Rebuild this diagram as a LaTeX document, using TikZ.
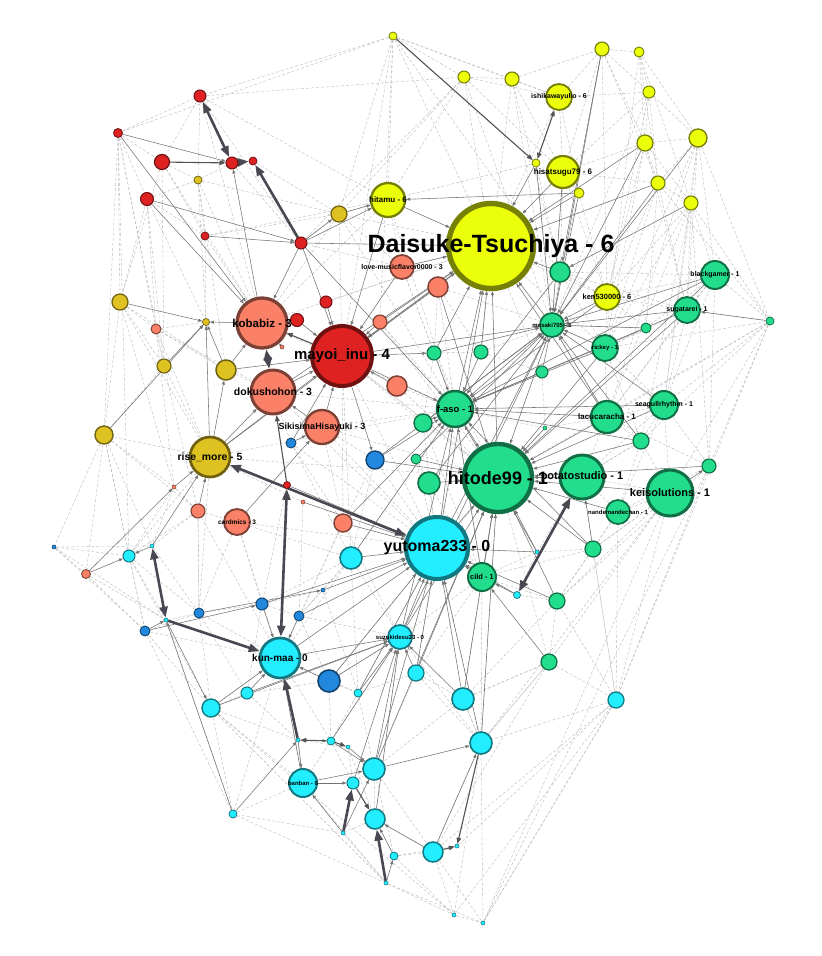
\documentclass[tikz,border=0pt]{standalone}
\usepackage{fontspec}
\setmainfont{Liberation Sans}
\usepackage{tikz}
\usetikzlibrary{arrows.meta}
\definecolor{NodeY}{RGB}{236,255,10}
\definecolor{NodeO}{RGB}{222,194,34}
\definecolor{NodeR}{RGB}{222,34,34}
\definecolor{NodeS}{RGB}{250,128,104}
\definecolor{NodeG}{RGB}{34,222,140}
\definecolor{NodeC}{RGB}{34,238,255}
\definecolor{NodeB}{RGB}{34,136,221}
\definecolor{EdgeDark}{RGB}{74,70,82}
\pgfdeclarelayer{edges}
\pgfsetlayers{edges,main}

\begin{document}
\begin{tikzpicture}[
  x=1pt, y=-1pt,
  vtx/.style={circle, inner sep=0pt, minimum size=#1pt, line width=0.3pt+#1*0.06pt},
  ynode/.style={vtx=#1, fill=NodeY, draw=NodeY!50!black},
  onode/.style={vtx=#1, fill=NodeO, draw=NodeO!50!black},
  rnode/.style={vtx=#1, fill=NodeR, draw=NodeR!50!black},
  snode/.style={vtx=#1, fill=NodeS, draw=NodeS!50!black},
  gnode/.style={vtx=#1, fill=NodeG, draw=NodeG!50!black},
  cnode/.style={vtx=#1, fill=NodeC, draw=NodeC!50!black},
  bnode/.style={vtx=#1, fill=NodeB, draw=NodeB!50!black},
  faint/.style={draw=black!28, line width=0.4pt, dash pattern=on 3pt off 2pt},
  arr/.style={-{Triangle[length=4pt,width=3pt]}, draw=black!55, line width=0.55pt},
  strong/.style={-{Triangle[length=6pt,width=4.5pt]}, draw=black!68, line width=1.1pt},
  strongboth/.style={strong, {Triangle[length=6pt,width=4.5pt]}-{Triangle[length=6pt,width=4.5pt]}},
  heavy/.style={-{Triangle[length=11pt,width=8pt]}, draw=EdgeDark, line width=2.6pt},
  heavyboth/.style={heavy, {Triangle[length=11pt,width=8pt]}-{Triangle[length=11pt,width=8pt]}},
  lab/.style={font=\bfseries\fontsize{#1}{#1}\selectfont, inner sep=0pt, text=black}
]
\useasboundingbox (0,0) rectangle (822,956);

% group 6
\node[ynode=8] (y1) at (393,36) {};
\node[ynode=14] (y2) at (602,49) {};
\node[ynode=10] (y6) at (639,52) {};
\node[ynode=12] (y3) at (464,77) {};
\node[ynode=14] (y4) at (512,79) {};
\node[ynode=26] (ishikawayulio) at (559,97) {};
\node[ynode=12] (y5) at (649,92) {};
\node[ynode=16] (y7) at (645,143) {};
\node[ynode=18] (y8) at (698,138) {};
\node[ynode=14] (y9) at (658,183) {};
\node[ynode=14] (y10) at (691,203) {};
\node[ynode=32] (hisatsugu) at (563,172) {};
\node[ynode=8] (y11) at (536,163) {};
\node[ynode=10] (y12) at (579,193) {};
\node[ynode=34] (hitamu) at (388,200) {};
\node[ynode=85] (daisuke) at (491,246) {};
\node[ynode=26] (ken) at (607,297) {};

% group 5
\node[onode=8] (o1) at (198,180) {};
\node[onode=16] (o2) at (339,214) {};
\node[onode=16] (o3) at (120,302) {};
\node[onode=7] (o4) at (206,322) {};
\node[onode=14] (o5) at (164,366) {};
\node[onode=20] (o6) at (226,370) {};
\node[onode=18] (o7) at (104,435) {};
\node[onode=40] (risemore) at (210,457) {};

% group 4
\node[rnode=12] (r1) at (200,96) {};
\node[rnode=9] (r2) at (118,133) {};
\node[rnode=15] (r3) at (162,162) {};
\node[rnode=12] (r4) at (232,163) {};
\node[rnode=8] (r5) at (253,161) {};
\node[rnode=13] (r6) at (147,199) {};
\node[rnode=8] (r7) at (205,236) {};
\node[rnode=12] (r8) at (301,243) {};
\node[rnode=12] (r9) at (326,302) {};
\node[rnode=13] (r10) at (297,320) {};
\node[rnode=60] (mayoi) at (342,356) {};
\node[rnode=7] (r11) at (287,485) {};

% group 3
\node[snode=24] (lovemusic) at (402,267) {};
\node[snode=20] (s1) at (438,287) {};
\node[snode=10] (s2) at (156,329) {};
\node[snode=50] (kobabiz) at (262,323) {};
\node[snode=14] (s3) at (380,322) {};
\node[snode=4] (s4) at (282,347) {};
\node[snode=44] (dokushohon) at (273,392) {};
\node[snode=20] (s5) at (397,386) {};
\node[snode=34] (sikisima) at (322,427) {};
\node[snode=4] (s6) at (174,487) {};
\node[snode=4] (s7) at (303,502) {};
\node[snode=14] (s8) at (198,511) {};
\node[snode=26] (cardmics) at (237,522) {};
\node[snode=18] (s9) at (343,523) {};
\node[snode=9] (s10) at (86,574) {};

% group 1
\node[gnode=20] (g1) at (560,272) {};
\node[gnode=28] (blackgamer) at (715,275) {};
\node[gnode=26] (sugatarei) at (687,310) {};
\node[gnode=10] (g2) at (646,328) {};
\node[gnode=8] (g3) at (770,321) {};
\node[gnode=24] (mosaki) at (552,325) {};
\node[gnode=26] (rickey) at (605,348) {};
\node[gnode=14] (g4) at (434,353) {};
\node[gnode=14] (g5) at (481,352) {};
\node[gnode=12] (g6) at (542,372) {};
\node[gnode=36] (faso) at (455,409) {};
\node[gnode=28] (seagull) at (664,405) {};
\node[gnode=32] (lacucaracha) at (607,417) {};
\node[gnode=18] (g7) at (423,423) {};
\node[gnode=4] (g8) at (545,428) {};
\node[gnode=16] (g9) at (641,441) {};
\node[gnode=10] (g10) at (416,459) {};
\node[gnode=22] (g11) at (429,483) {};
\node[gnode=68] (hitode) at (498,478) {};
\node[gnode=44] (potatostudio) at (582,477) {};
\node[gnode=14] (g12) at (709,466) {};
\node[gnode=46] (keisolutions) at (670,493) {};
\node[gnode=24] (nandemandechan) at (618,512) {};
\node[gnode=16] (g13) at (593,549) {};
\node[gnode=28] (cild) at (482,577) {};
\node[gnode=16] (g14) at (557,601) {};
\node[gnode=16] (g15) at (549,662) {};

% group 0
\node[cnode=62] (yutoma) at (437,548) {};
\node[cnode=4] (c1) at (537,552) {};
\node[cnode=22] (c2) at (351,558) {};
\node[cnode=12] (c3) at (129,556) {};
\node[cnode=4] (c4) at (152,546) {};
\node[cnode=7] (c5) at (517,595) {};
\node[cnode=4] (c6) at (166,620) {};
\node[cnode=24] (suzukidesu) at (400,637) {};
\node[cnode=40] (kunmaa) at (280,658) {};
\node[cnode=16] (c7) at (416,673) {};
\node[cnode=22] (c8) at (463,699) {};
\node[cnode=16] (c9) at (616,700) {};
\node[cnode=12] (c10) at (247,693) {};
\node[cnode=18] (c11) at (211,708) {};
\node[cnode=8] (c12) at (358,693) {};
\node[cnode=4] (c13) at (298,740) {};
\node[cnode=8] (c14) at (331,741) {};
\node[cnode=4] (c15) at (348,747) {};
\node[cnode=22] (c16) at (481,743) {};
\node[cnode=22] (c17) at (374,769) {};
\node[cnode=28] (banban) at (303,783) {};
\node[cnode=12] (c18) at (353,783) {};
\node[cnode=20] (c19) at (375,819) {};
\node[cnode=4] (c20) at (343,833) {};
\node[cnode=8] (c21) at (394,856) {};
\node[cnode=20] (c22) at (433,852) {};
\node[cnode=4] (c23) at (457,846) {};
\node[cnode=4] (c24) at (386,883) {};
\node[cnode=8] (c25) at (233,814) {};
\node[cnode=4] (c26) at (454,915) {};
\node[cnode=4] (c27) at (483,923) {};

% group 2
\node[bnode=4] (b1) at (54,547) {};
\node[bnode=10] (b2) at (291,443) {};
\node[bnode=18] (b3) at (375,460) {};
\node[bnode=4] (b4) at (323,590) {};
\node[bnode=12] (b5) at (262,604) {};
\node[bnode=10] (b6) at (199,613) {};
\node[bnode=10] (b7) at (145,631) {};
\node[bnode=10] (b8) at (299,616) {};
\node[bnode=22] (b9) at (329,681) {};

\begin{pgfonlayer}{edges}
% light mesh
\foreach \a/\b in {y1/r2, y1/r1, y1/y3, y1/y4, y1/hitamu, y1/o2, y1/daisuke, y1/ishikawayulio,
  y3/ishikawayulio, y3/y4, y3/hitamu, y3/daisuke, y3/hisatsugu, y4/hisatsugu, y4/y2, y4/ishikawayulio,
  y4/mosaki, y2/y6, y2/y5, y2/ishikawayulio, y2/y7, y2/hisatsugu, y6/y5, y6/y8, y6/y7, y5/y7, y5/y8,
  y5/hisatsugu, y5/y9, y7/y8, y7/y9, y7/y10, y7/hisatsugu, y8/y9, y8/y10, y8/blackgamer, y8/sugatarei,
  y8/g3, y9/y10, y9/ken, y9/hisatsugu, y10/blackgamer, y10/ken, y10/sugatarei, y10/g3, hisatsugu/ken,
  hisatsugu/g1, ishikawayulio/daisuke, ishikawayulio/hisatsugu, y12/ken, y12/g1, y6/rickey, y8/seagull,
  r1/r2, r1/r3, r1/y3, r1/o1, r2/r3, r2/r6, r2/o3, r2/o7, r2/s2, r3/o1, r3/kobabiz, r3/r7, r6/o1, r6/o3,
  r6/r7, r6/o5, r7/o2, r7/o1, r4/o1, r4/r8, r5/o2, o1/o2, o2/daisuke, o2/r8, o2/kobabiz, o2/lovemusic,
  r8/lovemusic, o3/s2, o3/o5, o3/o6, o3/o7, o5/o7, o5/s2, o5/risemore, o7/risemore, o7/c3, o7/s10, o7/b1,
  o7/s6, s2/o4, s2/o6, b1/s10, b1/c3, b1/b7, b1/c4, s10/b7, s10/c6, r2/c3,
  kobabiz/faso, mayoi/hitode, mayoi/yutoma, dokushohon/faso, dokushohon/yutoma, sikisima/faso,
  sikisima/yutoma, sikisima/hitode, risemore/faso, risemore/hitode, cardmics/yutoma, cardmics/kunmaa,
  s8/kunmaa, s8/c3, s9/kunmaa, b2/yutoma, b3/yutoma, g7/yutoma, g10/yutoma, g4/hitode, lovemusic/faso,
  s1/faso, s1/daisuke, s3/faso, s5/faso, s5/hitode, g5/mosaki, g6/faso, g1/mosaki, g1/ken, ken/rickey,
  ken/sugatarei, rickey/sugatarei, rickey/lacucaracha, rickey/g2, g2/sugatarei, g2/blackgamer,
  blackgamer/sugatarei, blackgamer/g3, sugatarei/g3, g3/seagull, g3/keisolutions, g3/g12, g3/lacucaracha,
  seagull/lacucaracha, seagull/g9, seagull/keisolutions, seagull/g12, g9/lacucaracha, g9/keisolutions,
  g9/potatostudio, g12/nandemandechan, keisolutions/nandemandechan, keisolutions/potatostudio,
  keisolutions/c9, keisolutions/g15, keisolutions/g14, keisolutions/c27, g12/c9, nandemandechan/g13,
  nandemandechan/potatostudio, potatostudio/g13, potatostudio/lacucaracha, lacucaracha/g8, g13/g14,
  g13/cild, g14/g15, g14/c5, g15/c9, g15/c8, g15/c16, c9/c16, c9/c26, c9/c22, c5/c1, c1/cild, c1/g13,
  cild/g14, cild/c8, cild/suzukidesu, cild/c16, yutoma/c7, c2/suzukidesu, c2/kunmaa, c2/b4, b4/b8, b4/b5,
  b5/b6, b6/b7, b6/c3, b7/c11, b7/kunmaa, b6/kunmaa, c3/c11, c3/c6, c6/c25, c11/c25, c11/c10, c11/c13,
  c11/banban, c11/c24, c25/c24, c25/c20, c25/banban, c10/b9, c10/c13, b9/c12, b9/c14, c12/c14,
  c13/banban, c13/c15, c15/c18, c18/c17, c17/c19, c19/c21, c19/c22, c19/c20, c20/c24, c21/c23, c21/c24,
  c22/c23, c22/c26, c22/c27, c24/c26, c24/c27, c26/c27, c16/c22, c16/c8, c8/c7, c8/c17, c7/c12, c7/c17,
  suzukidesu/c12, suzukidesu/b9, c23/c16, c23/c9, c27/c9, g3/hitode, g3/rickey, blackgamer/lacucaracha,
  seagull/potatostudio, y10/seagull, y9/rickey, y7/ken, daisuke/rickey, hitamu/lovemusic, s1/g4,
  s2/dokushohon, o6/dokushohon, s8/cardmics, s6/s8, b6/s8, r11/b5, s7/b8, b4/c12, c9/g13, g15/c22,
  b1/c6, c6/b6, c11/c26, banban/c24, kobabiz/daisuke, r9/daisuke, r10/hitode, s3/hitode, g7/cild,
  y1/g1, y1/mayoi, y1/s3, y3/mosaki, y3/o2, y3/r8, y4/g1, y4/daisuke, y2/ken, y2/y9, y6/y9, y6/y10,
  y5/ken, y5/mosaki, y7/rickey, y7/sugatarei, y8/rickey, y8/lacucaracha, y9/sugatarei, y9/g2,
  y10/rickey, y10/lacucaracha, y10/g9, y10/g12, hitamu/o2, hitamu/r7, hitamu/kobabiz, hitamu/faso,
  r1/kobabiz, r1/r8, r1/hitamu, r2/o5, r3/o3, r3/o5, r6/o4, r6/s2, r7/kobabiz, r7/o4, o1/o4, o1/o6,
  o1/kobabiz, o2/mayoi, o2/faso, o3/risemore, o3/s6, o5/s8, o7/s8, o7/b7, o7/c4, s2/risemore, s2/s6,
  s6/c3, s6/c4, risemore/c3, risemore/b6, risemore/s7, cardmics/b6, cardmics/b5, cardmics/c2, s8/b6,
  s9/b8, s9/suzukidesu, c2/b5, c2/b8, b3/c2, b3/s9, b2/s9, b2/c2, sikisima/b3, sikisima/s9,
  dokushohon/b2, mayoi/s9, mayoi/c2, mayoi/g7, lovemusic/g4, lovemusic/daisuke, s1/g5, s1/mosaki,
  g4/g5, g4/g7, g5/g6, g5/daisuke, g6/rickey, g6/g8, g8/faso, g8/yutoma, g10/g11, g11/yutoma, g11/cild,
  g7/hitode, faso/cild, faso/c2, hitode/c8, hitode/g15, hitode/c16, cild/c7, cild/c5, yutoma/c16,
  yutoma/c12, yutoma/b9, suzukidesu/c16, suzukidesu/c19, suzukidesu/banban, kunmaa/c12, kunmaa/c14,
  kunmaa/banban, kunmaa/c11, kunmaa/c25, b5/b8, b5/c10, b6/c10, b6/c11, b7/c25, c3/b7, c4/b6, c4/s8,
  c2/c12, b8/b9, b8/suzukidesu, c12/c17, c14/c18, c15/c19, c17/c22, c17/c21, c18/c20, c19/c24,
  c21/c26, c21/c22, c8/c16, c8/g15, c7/c16, c16/g15, c9/g14, c9/c27, c26/c16, c27/c16, g14/c8, g13/c9,
  g13/keisolutions, nandemandechan/g9, nandemandechan/c9, nandemandechan/g14, potatostudio/g9,
  potatostudio/c1, lacucaracha/g12, rickey/g9, rickey/seagull, mosaki/g2, mosaki/rickey,
  mosaki/lacucaracha, ken/g2, ken/blackgamer, g1/rickey, g1/sugatarei, g1/blackgamer, daisuke/g6,
  daisuke/g5, daisuke/ken, hisatsugu/mosaki, hisatsugu/y12, ishikawayulio/y12, ishikawayulio/y5,
  y11/hitamu, y11/mosaki, y11/g1, g3/g9, g3/y9, blackgamer/seagull, sugatarei/seagull,
  sugatarei/lacucaracha, blackgamer/g12, seagull/nandemandechan, keisolutions/g13, keisolutions/c16,
  g12/g14, g12/c27, g3/c9}
  \draw[faint] (\a) -- (\b);
% ordinary links
\foreach \a/\b in {y11/daisuke, y12/daisuke, y12/hitamu, hisatsugu/daisuke, y7/daisuke, y7/mosaki,
  y2/mosaki, y2/g1, y9/daisuke, y10/g1, y8/mosaki, hitamu/daisuke, o2/hitamu, hitamu/mayoi, r8/hitamu,
  r2/r4, r6/r8, r7/r8, r6/kobabiz, r2/kobabiz, r8/o2, r8/kobabiz, r8/mayoi, r8/daisuke, r8/faso,
  r9/mayoi, r10/mayoi, r10/kobabiz, s3/mayoi, s5/mayoi, lovemusic/mayoi, daisuke/mayoi, s1/mayoi,
  mayoi/g4, mayoi/faso, mayoi/b3, sikisima/mayoi, sikisima/dokushohon, b2/sikisima, dokushohon/mayoi,
  o6/kobabiz, kobabiz/o4, o3/o4, o5/o4, o7/o4, risemore/o4, o6/o4, risemore/o6, risemore/dokushohon,
  risemore/mayoi, s8/risemore, s6/risemore, c4/risemore, cardmics/sikisima, s9/yutoma, s7/yutoma,
  c2/yutoma, r11/yutoma, kobabiz/r4, s4/kobabiz,
  g1/daisuke, mosaki/daisuke, mosaki/faso, faso/daisuke, hitode/daisuke, mosaki/hitode, rickey/faso,
  rickey/hitode, lacucaracha/mosaki, lacucaracha/hitode, lacucaracha/faso, seagull/faso, seagull/hitode,
  sugatarei/faso, sugatarei/mosaki, blackgamer/mosaki, blackgamer/faso, g2/mosaki, g9/hitode, g9/faso,
  keisolutions/g12, keisolutions/hitode, nandemandechan/hitode, potatostudio/hitode, cild/hitode,
  cild/yutoma, yutoma/hitode, yutoma/faso, g7/faso, g10/hitode, g11/hitode, g4/faso, g5/faso,
  g6/mosaki, ken/mosaki, g8/hitode, b3/faso, b3/hitode, g13/hitode, g14/hitode, g15/cild, c5/cild,
  c1/hitode, c1/faso, g13/potatostudio, g3/sugatarei,
  suzukidesu/yutoma, suzukidesu/hitode, suzukidesu/faso, c7/suzukidesu, c8/suzukidesu, c8/yutoma,
  c16/yutoma, c16/hitode, c17/c16, c17/suzukidesu, c17/yutoma, c14/suzukidesu, c18/suzukidesu,
  banban/c18, c20/banban, c20/c17, c21/c19, c22/c19, c24/c21, c22/c16, c12/suzukidesu,
  kunmaa/suzukidesu, kunmaa/yutoma, c11/kunmaa, c10/kunmaa, b9/kunmaa, b8/kunmaa, b5/kunmaa, b4/yutoma,
  b6/b4, b7/b5, c6/c11, c25/c13, c25/c6, c4/c3, s10/c3, s10/s6, b7/c6, c13/c14, c14/c17, b9/suzukidesu,
  c15/c17, banban/c17, c13/banban,
  dokushohon/daisuke, mayoi/mosaki, risemore/daisuke, o6/mayoi, b2/mayoi, b3/mosaki, g4/mosaki,
  g7/mosaki, g10/mosaki, g11/mosaki, faso/hitode, cild/faso, yutoma/mosaki, yutoma/daisuke,
  suzukidesu/mosaki, c8/hitode, c7/hitode, c7/yutoma, c12/yutoma, b9/yutoma, c2/faso, s9/faso,
  g5/daisuke, g4/daisuke, lovemusic/daisuke, s1/hitode, s3/daisuke, y12/mosaki, y11/mosaki,
  hisatsugu/mosaki, y9/mosaki, g1/faso, rickey/mosaki, g2/faso, seagull/mosaki, g9/mosaki,
  lacucaracha/daisuke, ken/faso, sugatarei/hitode, blackgamer/hitode, g12/hitode, c1/yutoma,
  g14/yutoma, c5/yutoma, g13/faso, c17/hitode, c19/suzukidesu, banban/kunmaa, c11/suzukidesu,
  c10/suzukidesu, b8/yutoma, b5/yutoma}
  \draw[arr] (\a) -- (\b);
% stronger links
\draw[strongboth] (ishikawayulio) -- (y11);
\draw[strong] (y1) -- (y11);
\draw[strong] (r3) -- (r4);
\draw[strong] (mayoi) -- (kobabiz);
\draw[strong] (r11) -- (dokushohon);
\draw[strong] (c14) -- (c13);
\draw[strong] (c14) -- (c15);
\draw[strong] (c18) -- (c19);
\draw[strong] (c22) -- (c23);
\draw[strong] (c16) -- (c23);
% heaviest links
\draw[heavyboth] (r1) -- (r4);
\draw[heavyboth] (r4) -- (r5);
\draw[heavy] (r8) -- (r5);
\draw[heavyboth] (kobabiz) -- (dokushohon);
\draw[heavyboth] (risemore) -- (yutoma);
\draw[heavyboth] (r11) -- (kunmaa);
\draw[heavyboth] (c4) -- (c6);
\draw[heavy] (c6) -- (kunmaa);
\draw[heavy] (c13) -- (kunmaa);
\draw[heavyboth] (potatostudio) -- (c5);
\draw[heavy] (c20) -- (c18);
\draw[heavy] (c24) -- (c19);
\end{pgfonlayer}

% labels
\node[lab=7] (ishikawayulio-l) at (ishikawayulio) {ishikawayulio - 6};
\node[lab=8] (hisatsugu-l) at (hisatsugu) {hisatsugu79 - 6};
\node[lab=8] (hitamu-l) at (hitamu) {hitamu - 6};
\node[lab=7] (lovemusic-l) at (lovemusic) {love-musicflavor0000 - 3};
\node[lab=25] (daisuke-l) at (daisuke) {Daisuke-Tsuchiya - 6};
\node[lab=7.5] (ken-l) at (ken) {ken530000 - 6};
\node[lab=7] (blackgamer-l) at (blackgamer) {blackgamer - 1};
\node[lab=7] (sugatarei-l) at (sugatarei) {sugatarei - 1};
\node[lab=6] (mosaki-l) at (mosaki) {mosaki705 - 1};
\node[lab=6] (rickey-l) at (rickey) {rickey - 1};
\node[lab=11.5] (kobabiz-l) at (kobabiz) {kobabiz - 3};
\node[lab=15] (mayoi-l) at (mayoi) {mayoi\_inu - 4};
\node[lab=10.5] (dokushohon-l) at (dokushohon) {dokushohon - 3};
\node[lab=9] (sikisima-l) at (sikisima) {SikisimaHisayuki - 3};
\node[lab=9.4] (faso-l) at (faso) {f-aso - 1};
\node[lab=8] (lacucaracha-l) at (lacucaracha) {lacucaracha - 1};
\node[lab=7] (seagull-l) at (seagull) {seagullrhythm - 1};
\node[lab=10.4] (risemore-l) at (risemore) {rise\_more - 5};
\node[lab=18] (hitode-l) at (hitode) {hitode99 - 1};
\node[lab=11] (potatostudio-l) at (potatostudio) {potatostudio - 1};
\node[lab=11] (keisolutions-l) at (keisolutions) {keisolutions - 1};
\node[lab=6] (nandemandechan-l) at (nandemandechan) {nandemandechan - 1};
\node[lab=6.5] (cardmics-l) at (cardmics) {cardmics - 3};
\node[lab=16] (yutoma-l) at (yutoma) {yutoma233 - 0};
\node[lab=7.5] (cild-l) at (cild) {cild - 1};
\node[lab=6] (suzukidesu-l) at (suzukidesu) {suzukidesu23 - 0};
\node[lab=10] (kunmaa-l) at (kunmaa) {kun-maa - 0};
\node[lab=6] (banban-l) at (banban) {banban - 0};
\end{tikzpicture}
\end{document}
